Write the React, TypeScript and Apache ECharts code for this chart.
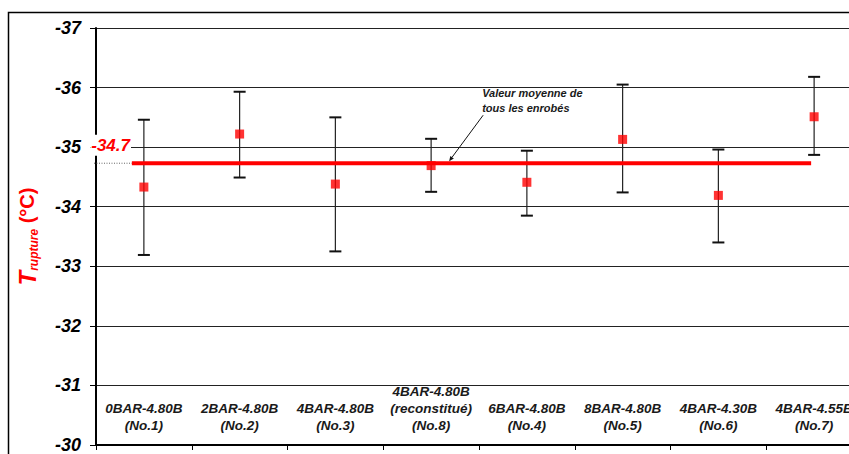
import React, { useEffect, useRef } from "react";
import * as echarts from "echarts";

const categories = [
  "0BAR-4.80B\n(No.1)",
  "2BAR-4.80B\n(No.2)",
  "4BAR-4.80B\n(No.3)",
  "4BAR-4.80B\n(reconstitué)\n(No.8)",
  "6BAR-4.80B\n(No.4)",
  "8BAR-4.80B\n(No.5)",
  "4BAR-4.30B\n(No.6)",
  "4BAR-4.55B\n(No.7)",
];
const meanValues = [-34.33, -35.22, -34.38, -34.69, -34.41, -35.13, -34.19, -35.51];
const upperValues = [-35.46, -35.93, -35.5, -35.14, -34.94, -36.05, -34.96, -36.18];
const lowerValues = [-33.19, -34.49, -33.25, -34.25, -33.85, -34.24, -33.4, -34.87];
const overallMean = -34.73;
const overallMeanLabel = "-34.7";
const annotationText = "Valeur moyenne de\ntous les enrobés";
const yMin = -37;
const yMax = -30;

const FONT = "'Liberation Sans', Arial, sans-serif";

export default function App() {
  const ref = useRef<HTMLDivElement>(null);
  useEffect(() => {
    if (!ref.current) return;
    const chart = echarts.init(ref.current, undefined, { renderer: "svg" });
    const option: any = {
      animation: false,
      backgroundColor: "#ffffff",
      grid: { left: 96, right: 18, top: 28, bottom: 8, containLabel: false },
      graphic: [
        {
          type: "rect",
          z: -1,
          shape: { x: 8.5, y: 12.5, width: 900, height: 500 },
          style: { fill: "none", stroke: "#000", lineWidth: 1.5 },
          silent: true,
        },
      ],
      xAxis: {
        type: "category",
        data: categories,
        boundaryGap: true,
        axisLine: { show: true, lineStyle: { color: "#000", width: 2 } },
        axisTick: { show: true, length: 5, inside: false, lineStyle: { color: "#000", width: 1 } },
        axisLabel: {
          inside: true,
          margin: 11,
          interval: 0,
          fontFamily: FONT,
          fontSize: 13.5,
          fontWeight: "bold",
          fontStyle: "italic",
          color: "#1a1a1a",
          lineHeight: 17,
        },
        splitLine: { show: false },
      },
      yAxis: {
        type: "value",
        inverse: true,
        min: yMin,
        max: yMax,
        interval: 1,
        axisLine: { show: true, lineStyle: { color: "#000", width: 2 } },
        axisTick: { show: true, length: 6, lineStyle: { color: "#000", width: 1 } },
        axisLabel: {
          margin: 15,
          fontFamily: FONT,
          fontSize: 18,
          fontWeight: "bold",
          fontStyle: "italic",
          color: "#000",
        },
        splitLine: { show: true, lineStyle: { color: "#222", width: 1 } },
        name: "{t|T}{s|rupture}{u| (°C)}",
        nameLocation: "middle",
        nameRotate: 90,
        nameGap: 56,
        nameTextStyle: {
          fontFamily: FONT,
          color: "#ff0000",
          rich: {
            t: { fontFamily: FONT, fontSize: 24, fontWeight: "bold", fontStyle: "italic", color: "#ff0000", lineHeight: 26 },
            s: {
              fontFamily: FONT,
              fontSize: 12,
              fontWeight: "bold",
              fontStyle: "italic",
              color: "#ff0000",
              lineHeight: 14,
              verticalAlign: "bottom",
            },
            u: { fontFamily: FONT, fontSize: 20, fontWeight: "bold", color: "#ff0000", lineHeight: 26 },
          },
        },
      },
      series: [
        {
          type: "custom",
          name: "errorbars",
          z: 3,
          data: categories.map((_, i) => [i, upperValues[i], lowerValues[i]]),
          encode: { x: 0, y: [1, 2] },
          renderItem: (params: any, api: any) => {
            const i = api.value(0);
            const p1 = api.coord([i, api.value(1)]);
            const p2 = api.coord([i, api.value(2)]);
            const cw = 6;
            const style = { stroke: "#222", lineWidth: 1.2 };
            const capStyle = { stroke: "#111", lineWidth: 2 };
            return {
              type: "group",
              children: [
                { type: "line", shape: { x1: p1[0], y1: p1[1], x2: p2[0], y2: p2[1] }, style },
                { type: "line", shape: { x1: p1[0] - cw, y1: p1[1], x2: p1[0] + cw, y2: p1[1] }, style: capStyle },
                { type: "line", shape: { x1: p2[0] - cw, y1: p2[1], x2: p2[0] + cw, y2: p2[1] }, style: capStyle },
              ],
            };
          },
        },
        {
          type: "custom",
          name: "meanline",
          z: 4,
          data: [[0, overallMean]],
          encode: { x: 0, y: 1 },
          renderItem: (params: any, api: any) => {
            const v = api.value(1);
            const a = api.coord([0, v]);
            const b = api.coord([categories.length - 1, v]);
            const c = api.coord([3, v]);
            const left = params.coordSys.x;
            const y = a[1];
            const x0 = a[0] - 12;
            const ax1 = c[0] + 52;
            const ay1 = y - 48;
            const ax2 = c[0] + 18;
            const ay2 = y - 2;
            const ang = Math.atan2(ay2 - ay1, ax2 - ax1);
            const hl = 5;
            const hw = 2.2;
            const bx = ax2 - hl * Math.cos(ang);
            const by = ay2 - hl * Math.sin(ang);
            return {
              type: "group",
              children: [
                {
                  type: "line",
                  shape: { x1: left - 2, y1: y, x2: x0, y2: y },
                  style: { stroke: "#666", lineWidth: 1, lineDash: [1, 1.5] },
                },
                {
                  type: "line",
                  shape: { x1: x0, y1: y, x2: b[0] - 3, y2: y },
                  style: { stroke: "#ff0000", lineWidth: 4 },
                },
                {
                  type: "text",
                  x: left + 35,
                  y: y - 18,
                  style: {
                    text: overallMeanLabel,
                    align: "right",
                    verticalAlign: "middle",
                    fontFamily: FONT,
                    fontSize: 17,
                    fontWeight: "bold",
                    fontStyle: "italic",
                    fill: "#ff0000",
                    backgroundColor: "#ffffff",
                    padding: [2, 1, 2, 1],
                  },
                },
                {
                  type: "line",
                  shape: { x1: ax1, y1: ay1, x2: bx, y2: by },
                  style: { stroke: "#111", lineWidth: 1 },
                },
                {
                  type: "polygon",
                  shape: {
                    points: [
                      [ax2, ay2],
                      [bx + hw * Math.sin(ang), by - hw * Math.cos(ang)],
                      [bx - hw * Math.sin(ang), by + hw * Math.cos(ang)],
                    ],
                  },
                  style: { fill: "#111" },
                },
                {
                  type: "text",
                  x: ax1 - 1,
                  y: y - 77,
                  style: {
                    text: annotationText,
                    align: "left",
                    verticalAlign: "top",
                    fontFamily: FONT,
                    fontSize: 11,
                    fontWeight: "bold",
                    fontStyle: "italic",
                    fill: "#1a1a1a",
                    lineHeight: 14.5,
                  },
                },
              ],
            };
          },
        },
        {
          type: "scatter",
          name: "T rupture",
          z: 5,
          data: meanValues,
          symbol: "rect",
          symbolSize: 9,
          itemStyle: { color: "#ff0000" },
        },
      ],
    };
    chart.setOption(option);
    return () => chart.dispose();
  }, []);
  return (
    <div style={{ width: 849, height: 454, position: "absolute", top: 0, left: 0, overflow: "hidden" }}>
      <div ref={ref} style={{ width: 880, height: 454 }} />
    </div>
  );
}
